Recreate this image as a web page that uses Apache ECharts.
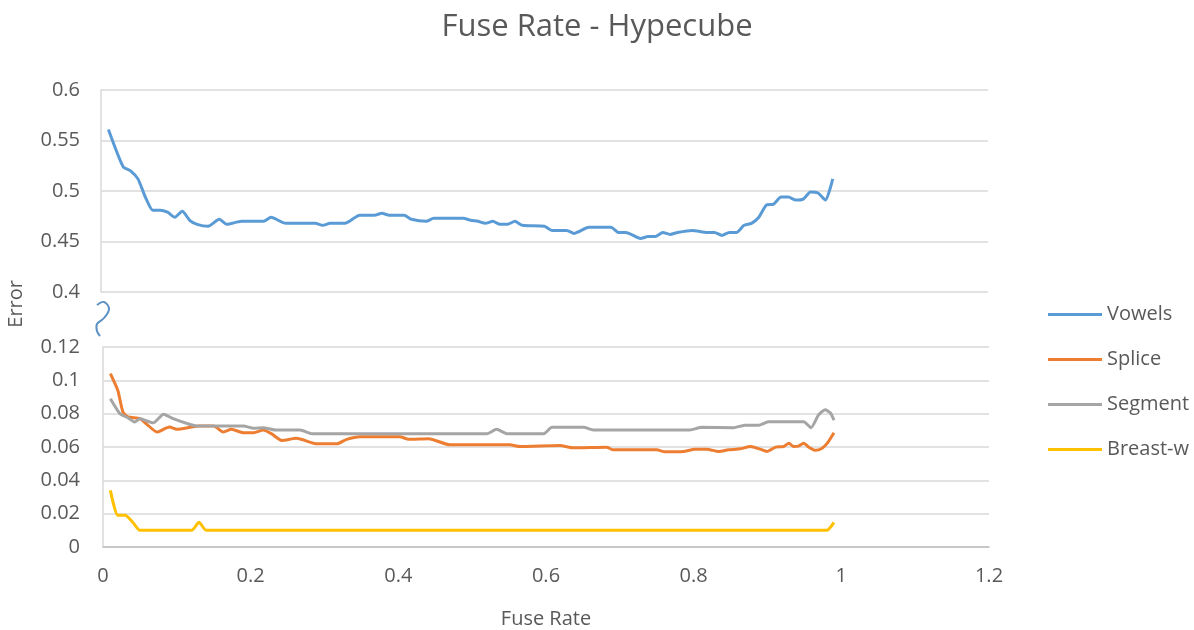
<!DOCTYPE html>
<html>
<head>
<meta charset="utf-8">
<title>Fuse Rate - Hypecube</title>
<script src="https://cdn.jsdelivr.net/npm/echarts@6/dist/echarts.min.js"></script>
<style>
  html, body { margin: 0; padding: 0; background: #fff; }
  #chart { width: 1194px; height: 630px; }
</style>
</head>
<body>
<div id="chart"></div>
<script>
// fuse rate (x) vs error (y)
const vowels = [
  [0.01, 0.561], [0.03, 0.524], [0.04, 0.52], [0.05, 0.512], [0.06, 0.494], [0.07, 0.481],
  [0.08, 0.481], [0.09, 0.479], [0.1, 0.474], [0.11, 0.48], [0.12, 0.471], [0.13, 0.467],
  [0.145, 0.465], [0.16, 0.472], [0.17, 0.467], [0.19, 0.47], [0.22, 0.47], [0.23, 0.474],
  [0.25, 0.468], [0.29, 0.468], [0.30, 0.466], [0.31, 0.468], [0.33, 0.468], [0.35, 0.476],
  [0.37, 0.476], [0.38, 0.478], [0.39, 0.476], [0.41, 0.476], [0.42, 0.472], [0.44, 0.47],
  [0.45, 0.473], [0.49, 0.473], [0.50, 0.471], [0.51, 0.47], [0.52, 0.468], [0.53, 0.47],
  [0.54, 0.467], [0.55, 0.467], [0.56, 0.47], [0.57, 0.466], [0.60, 0.465], [0.61, 0.461],
  [0.63, 0.461], [0.64, 0.458], [0.66, 0.464], [0.69, 0.464], [0.70, 0.459], [0.71, 0.459],
  [0.73, 0.453], [0.74, 0.455], [0.75, 0.455], [0.76, 0.459], [0.77, 0.457], [0.78, 0.459],
  [0.80, 0.461], [0.82, 0.459], [0.83, 0.459], [0.84, 0.456], [0.85, 0.459], [0.86, 0.459],
  [0.87, 0.466], [0.88, 0.468], [0.89, 0.474], [0.90, 0.486], [0.91, 0.487], [0.92, 0.494],
  [0.93, 0.494], [0.94, 0.491], [0.95, 0.492], [0.96, 0.499], [0.97, 0.498], [0.98, 0.491],
  [0.99, 0.512]
]

const splice = [
  [0.01, 0.104], [0.02, 0.094], [0.027, 0.081], [0.034, 0.078], [0.05, 0.077], [0.061, 0.073],
  [0.073, 0.069], [0.09, 0.072], [0.10, 0.0706], [0.12, 0.072], [0.13, 0.0726], [0.15, 0.0726],
  [0.163, 0.069], [0.174, 0.0706], [0.19, 0.0686], [0.204, 0.0686], [0.217, 0.0702], [0.228, 0.068],
  [0.242, 0.0639], [0.262, 0.0652], [0.29, 0.0619], [0.317, 0.0619], [0.33, 0.0646], [0.348, 0.0662],
  [0.402, 0.0662], [0.414, 0.0646], [0.441, 0.065], [0.47, 0.0613], [0.551, 0.0613], [0.565, 0.0603],
  [0.619, 0.0609], [0.637, 0.0595], [0.682, 0.0599], [0.691, 0.0583], [0.75, 0.0583], [0.761, 0.0571],
  [0.786, 0.0573], [0.802, 0.0587], [0.818, 0.0587], [0.834, 0.0573], [0.847, 0.0583], [0.863, 0.0589],
  [0.877, 0.0603], [0.89, 0.0587], [0.899, 0.0573], [0.911, 0.0599], [0.922, 0.0603], [0.929, 0.0623],
  [0.935, 0.0603], [0.942, 0.0605], [0.949, 0.0623], [0.956, 0.0599], [0.965, 0.058], [0.974, 0.0593],
  [0.981, 0.0623], [0.99, 0.0686]
]

const segment = [
  [0.01, 0.089], [0.023, 0.080], [0.032, 0.078], [0.043, 0.075], [0.05, 0.077], [0.068, 0.0745],
  [0.082, 0.0797], [0.095, 0.077], [0.118, 0.0735], [0.127, 0.0726], [0.19, 0.0726], [0.204, 0.0712],
  [0.217, 0.0716], [0.233, 0.0702], [0.267, 0.0702], [0.283, 0.068], [0.52, 0.068], [0.533, 0.0706],
  [0.547, 0.068], [0.597, 0.068], [0.608, 0.0718], [0.651, 0.0718], [0.664, 0.0702], [0.795, 0.0702],
  [0.811, 0.0718], [0.854, 0.0716], [0.87, 0.0731], [0.888, 0.0731], [0.901, 0.0751], [0.949, 0.0751],
  [0.959, 0.0716], [0.969, 0.0791], [0.978, 0.0824], [0.985, 0.0805], [0.99, 0.0761]
]

const breastW = [
  [0.01, 0.034], [0.02, 0.019], [0.03, 0.019], [0.04, 0.015], [0.05, 0.01], [0.12, 0.01],
  [0.13, 0.0148], [0.14, 0.01], [0.98, 0.01], [0.99, 0.0148]
]

const seriesNames = ['Vowels', 'Splice', 'Segment', 'Breast-w']
const colors = ['#5b9bd5', '#ed7d31', '#a5a5a5', '#ffc000']
const xTicks = { min: 0, max: 1.2, interval: 0.2 }
const yTop = { min: 0.4, max: 0.6, interval: 0.05 }
const yBottom = { min: 0, max: 0.12, interval: 0.02 }

const FONT = '"Open Sans", sans-serif'
const TXT = '#595959'
const GRIDLINE = '#d9d9d9'

const chart = echarts.init(document.getElementById('chart'))

const lineSeries = (name, data, idx, axis) => ({
  name,
  type: 'line',
  xAxisIndex: axis,
  yAxisIndex: axis,
  data,
  symbol: 'none',
  smooth: 0.2,
  lineStyle: { width: 3, color: colors[idx] },
  itemStyle: { color: colors[idx] }
})

const option = {
  backgroundColor: '#fff',
  animation: false,
  title: {
    text: 'Fuse Rate - Hypecube',
    left: 'center',
    top: 7,
    textStyle: { color: TXT, fontFamily: FONT, fontSize: 31, fontWeight: 'normal' }
  },
  legend: {
    data: seriesNames,
    orient: 'vertical',
    left: 1043,
    top: 296,
    icon: 'rect',
    itemWidth: 54,
    itemHeight: 3,
    itemGap: 18,
    textStyle: { color: TXT, fontFamily: FONT, fontSize: 20, lineHeight: 27 }
  },
  grid: [
    { left: 101, top: 90, width: 887, height: 202 },
    { left: 103, top: 347, width: 886, height: 201 }
  ],
  xAxis: [
    {
      type: 'value', gridIndex: 0, ...xTicks,
      axisLine: { show: false }, axisTick: { show: false },
      axisLabel: { show: false }, splitLine: { show: false }
    },
    {
      type: 'value', gridIndex: 1, ...xTicks,
      name: 'Fuse Rate', nameLocation: 'middle', nameGap: 62,
      nameTextStyle: { color: TXT, fontFamily: FONT, fontSize: 20 },
      axisLine: { show: true, onZero: false, lineStyle: { color: '#bfbfbf', width: 1.5 } },
      axisTick: { show: false },
      axisLabel: { color: TXT, fontFamily: FONT, fontSize: 20, margin: 19 },
      splitLine: { show: false }
    }
  ],
  yAxis: [
    {
      type: 'value', gridIndex: 0, ...yTop,
      axisLine: { show: true, lineStyle: { color: GRIDLINE, width: 1.5 } },
      axisTick: { show: false },
      axisLabel: { color: TXT, fontFamily: FONT, fontSize: 20, margin: 21 },
      splitLine: { lineStyle: { color: GRIDLINE, width: 1.5 } }
    },
    {
      type: 'value', gridIndex: 1, ...yBottom,
      axisLine: { show: true, lineStyle: { color: GRIDLINE, width: 1.5 } },
      axisTick: { show: false },
      axisLabel: { color: TXT, fontFamily: FONT, fontSize: 20, margin: 23 },
      splitLine: { lineStyle: { color: GRIDLINE, width: 1.5 } }
    }
  ],
  graphic: [
    {
      type: 'text',
      left: 6,
      top: 280,
      rotation: Math.PI / 2,
      style: { text: 'Error', fill: TXT, font: '20px ' + FONT }
    },
    {
      // axis break squiggle
      type: 'polyline',
      shape: { points: [[97, 305], [104, 302], [109, 309], [104, 318], [97, 324], [97, 331], [100, 336]], smooth: 0.4 },
      style: { fill: 'none', stroke: '#5a8fc4', lineWidth: 2 }
    }
  ],
  series: [
    lineSeries('Vowels', vowels, 0, 0),
    lineSeries('Splice', splice, 1, 1),
    lineSeries('Segment', segment, 2, 1),
    lineSeries('Breast-w', breastW, 3, 1)
  ]
}

chart.setOption(option)
</script>
</body>
</html>
